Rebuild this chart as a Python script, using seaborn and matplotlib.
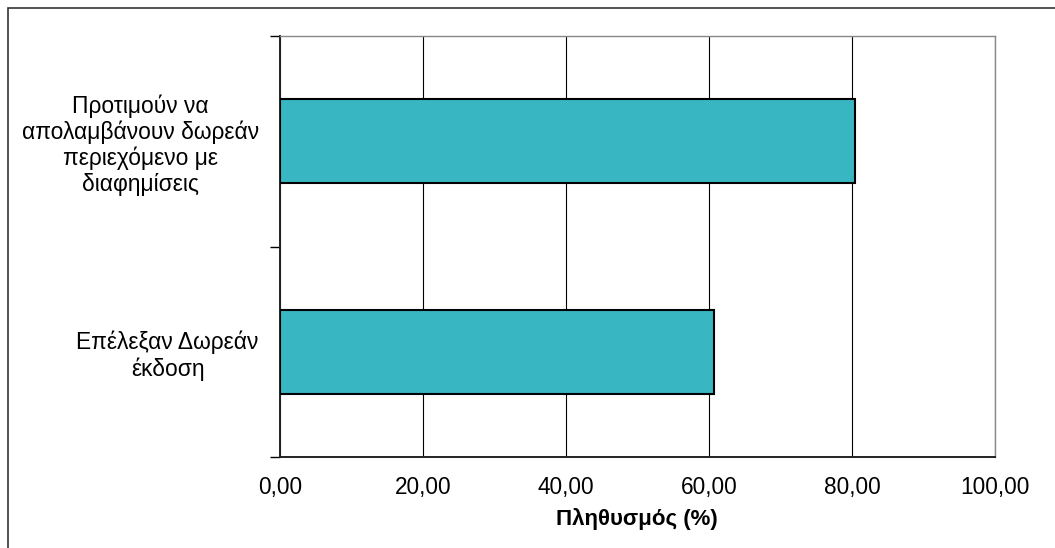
import matplotlib
matplotlib.use("Agg")
import matplotlib.pyplot as plt
import seaborn as sns
import pandas as pd
from matplotlib.ticker import FuncFormatter, FixedLocator
from matplotlib.patches import Rectangle

categories = [
    "Προτιμούν να\nαπολαμβάνουν δωρεάν\nπεριεχόμενο με\nδιαφημίσεις",
    "Επέλεξαν Δωρεάν\nέκδοση",
]
values = [80.4, 60.7]
x_ticks = [0, 20, 40, 60, 80, 100]
x_label = "Πληθυσμός (%)"

sns.set_theme(style="white")
plt.rcParams['font.family'] = ['Liberation Sans', 'DejaVu Sans']

df = pd.DataFrame({"cat": categories, "val": values})

fig = plt.figure(figsize=(10.55, 5.48), dpi=100)
W, H = 1055, 548
ax = fig.add_axes([279.7 / W, (H - 457) / H, (995 - 279.7) / W, (457 - 36) / H])

sns.barplot(data=df, x="val", y="cat", orient="h", color="#38B6C2",
            saturation=1, width=0.4, edgecolor="black", linewidth=1.5,
            ax=ax, zorder=3)

ax.set_xlim(0, 100)
ax.set_ylim(1.5, -0.5)
ax.xaxis.set_major_locator(FixedLocator(x_ticks))
ax.xaxis.set_major_formatter(FuncFormatter(lambda v, p: f"{v:.2f}".replace(".", ",")))
ax.grid(axis="x", color="black", linewidth=0.8, zorder=0)
ax.set_axisbelow(True)

ax.tick_params(axis="x", which="major", direction="out", length=6, width=1,
               color="black", labelsize=16.3, labelcolor="black", pad=8)
ax.tick_params(axis="y", which="major", length=0, labelsize=16.4,
               labelcolor="black", pad=15)
ax.yaxis.set_minor_locator(FixedLocator([-0.5, 0.5, 1.5]))
ax.tick_params(axis="y", which="minor", direction="out", length=7, width=1,
               color="black", left=True)
for lab in ax.get_yticklabels():
    lab.set_multialignment("center")
    lab.set_linespacing(1.15)

ax.set_xlabel(x_label, fontsize=16, fontweight="bold", color="black", labelpad=6)
ax.set_ylabel("")

for side in ["left", "bottom"]:
    ax.spines[side].set_color("#222222")
    ax.spines[side].set_linewidth(1.4)
for side in ["top", "right"]:
    ax.spines[side].set_color("#888888")
    ax.spines[side].set_linewidth(1.0)

fig.patches.append(Rectangle((8 / W, -0.1), 1.2, (H - 8) / H + 0.1,
                             transform=fig.transFigure, fill=False,
                             edgecolor="#333333", linewidth=1.2))

fig.savefig("out.png", dpi=100)
